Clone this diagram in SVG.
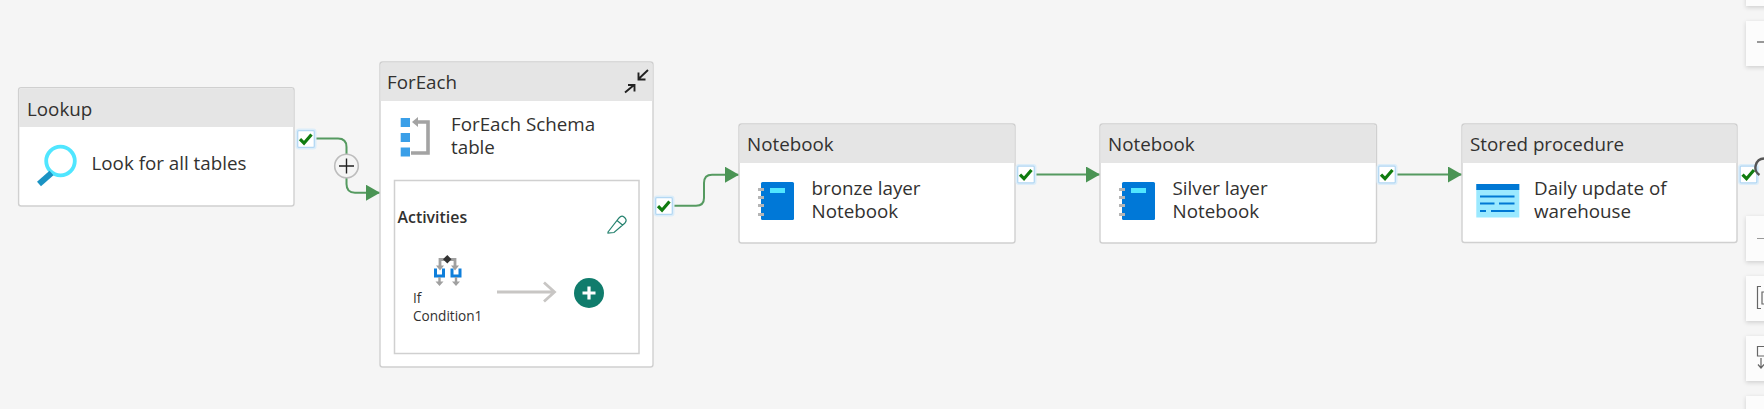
<svg xmlns="http://www.w3.org/2000/svg" width="1764" height="409" viewBox="0 0 1764 409">
<style>
text{font-family:"Open Sans","Noto Sans","Liberation Sans",sans-serif;fill:#323130}
.t{font-size:18.8px}
.card{fill:#fff;stroke:#d0d0d0;stroke-width:1.4}
.hd{fill:#e5e5e5}
.conn{fill:none;stroke:#559a60;stroke-width:2}
.glow{fill:none;stroke:#dcedf9;stroke-width:3.400}
.chk{fill:#fff;stroke:#b4d8f3;stroke-width:1.300}
.tick{fill:none;stroke:#107c10;stroke-width:3.200}
.btn{fill:#fcfcfc;filter:url(#s)}
.ring{fill:#b5b5b5}
.nb{fill:#0078d7}
</style>
<defs>
<filter id="s" x="-30%" y="-30%" width="160%" height="160%"><feDropShadow dx="0" dy="1.5" stdDeviation="2" flood-color="#000" flood-opacity="0.16"/></filter>
<marker id="a" markerUnits="userSpaceOnUse" markerWidth="14" markerHeight="16" refX="14" refY="8" orient="auto"><path d="M0 0L14 8L0 16Z" fill="#4a9454"/></marker>
<g id="check"><rect class="glow" x="0.200" y="0.200" width="17.600" height="17.600" rx="1.500"/><rect class="chk" x="0.700" y="0.700" width="16.600" height="16.600" rx="1"/><path class="tick" d="M3 9.200L7 13.200L14.500 4.500"/></g>
<g id="nbicon"><rect class="nb" x="0" y="0" width="33" height="38" rx="1.500"/><rect x="9" y="6" width="15" height="5" fill="#50e6ff"/><rect class="ring" x="-3" y="6" width="6" height="3"/><rect class="ring" x="-3" y="14" width="6" height="3"/><rect class="ring" x="-3" y="22" width="6" height="3"/><rect class="ring" x="-3" y="31" width="6" height="3"/></g>
</defs>
<rect width="1764" height="409" fill="#f5f5f5"/>
<g id="connectors">
<path class="conn" marker-end="url(#a)" d="M314 138.500H338Q346.500 138.500 346.500 147V184Q346.500 192.700 355 192.700H380"/>
<path class="conn" marker-end="url(#a)" d="M672 205.700H696Q704 205.700 704 198V183Q704 174.700 712 174.700H739"/>
<path class="conn" marker-end="url(#a)" d="M1034 174.500H1100"/>
<path class="conn" marker-end="url(#a)" d="M1395 174.500H1462"/>
</g>
<g id="add-lookup"><circle cx="346.500" cy="166" r="11.800" fill="#f5f5f5" stroke="#bdbdbd" stroke-width="1.600"/><path d="M339 166H354M346.500 158.500V173.500" stroke="#222" stroke-width="1.400"/></g>
<g id="lookup">
<rect class="card" x="18.600" y="87.600" width="275.400" height="118.400" rx="2.500"/>
<path class="hd" d="M19.200 90.500Q19.200 88.200 21.500 88.200H291.200Q293.400 88.200 293.400 90.500V127H19.200Z"/>
<text class="t" x="27" y="115.700">Lookup</text>
<circle cx="60.500" cy="161" r="14.300" fill="none" stroke="#50e6ff" stroke-width="3.800"/>
<path d="M39 184L51.500 173" stroke="#1b93c3" stroke-width="6"/>
<text class="t" x="91.500" y="170">Look for all tables</text>
<use href="#check" x="297" y="130"/>
</g>
<g id="foreach">
<rect class="card" x="380" y="62" width="273" height="305" rx="2.500"/>
<path class="hd" d="M380.600 65Q380.600 62.600 383 62.600H650Q652.400 62.600 652.400 65V101H380.600Z"/>
<text class="t" x="387" y="89">ForEach</text>
<path d="M625 92.500L634 85M628 85H634.500V91.500M648 70L638.500 79M638.500 72.500V79.500H645.500" fill="none" stroke="#222" stroke-width="1.900"/>
<rect x="400.700" y="118" width="9.300" height="9" fill="#3a9fe8"/><rect x="400.700" y="133" width="9.300" height="9" fill="#3a9fe8"/><rect x="400.700" y="147.500" width="9.300" height="9" fill="#3a9fe8"/>
<path d="M411 153H428V122H417" fill="none" stroke="#a3a3a3" stroke-width="3.600"/><path d="M412 122L418 117V127Z" fill="#a3a3a3"/>
<text class="t" x="451" y="131">ForEach Schema</text>
<text class="t" x="451" y="154">table</text>
<rect x="394.500" y="180.500" width="244.500" height="173" fill="#fff" stroke="#d0d0d0" stroke-width="1.500"/>
<text x="397.500" y="222.700" font-size="15.900" font-weight="600">Activities</text>
<path d="M608 232L619 218Q621.500 215 624 217L625.500 218.500Q627 220.500 625 223L614 232.500L608 233Z M617 220.500L622.500 225" fill="#fff" stroke="#26826f" stroke-width="1.200"/>
<g id="if-icon">
<path d="M440 266V259.500H455V266" fill="none" stroke="#a0a0a0" stroke-width="2.800"/>
<path d="M436 265.500H444L440 270.500ZM451 265.500H459L455 270.500Z" fill="#a0a0a0"/>
<path d="M447.300 255L451.500 259.300L447.300 263.500L443 259.300Z" fill="#333"/>
<path d="M435.500 268.500V276H443.500V268.500M452 268.500V276H460V268.500" fill="none" stroke="#0f7fdb" stroke-width="3"/>
<path d="M439.500 277V282M456 277V282" stroke="#a0a0a0" stroke-width="2.400"/>
<path d="M435.500 281.500H443.500L439.500 286ZM452 281.500H460L456 286Z" fill="#a0a0a0"/>
</g>
<text x="413" y="303" font-size="13.600">If</text>
<text x="413" y="321" font-size="13.600">Condition1</text>
<path d="M497 292H554M544 282.500L554.500 292L544 301.500" fill="none" stroke="#c8c6c4" stroke-width="2.800"/>
<circle cx="589" cy="293" r="15" fill="#107c6c"/><path d="M582.500 293H595.500M589 286.500V299.500" stroke="#fff" stroke-width="3.200"/>
<use href="#check" x="655" y="197"/>
</g>
<g id="notebook-bronze">
<rect class="card" x="739" y="124" width="276" height="119" rx="2.500"/>
<path class="hd" d="M739.600 127Q739.600 124.600 742 124.600H1012Q1014.400 124.600 1014.400 127V163H739.600Z"/>
<text class="t" x="747" y="150.700">Notebook</text>
<use href="#nbicon" x="761" y="182"/>
<text class="t" x="811.500" y="195">bronze layer</text>
<text class="t" x="811.500" y="218">Notebook</text>
<use href="#check" x="1017" y="165.500"/>
</g>
<g id="notebook-silver">
<rect class="card" x="1100" y="124" width="276.500" height="119" rx="2.500"/>
<path class="hd" d="M1100.600 127Q1100.600 124.600 1103 124.600H1373.500Q1375.900 124.600 1375.900 127V163H1100.600Z"/>
<text class="t" x="1108" y="150.700">Notebook</text>
<use href="#nbicon" x="1122" y="182"/>
<text class="t" x="1172.500" y="195">Silver layer</text>
<text class="t" x="1172.500" y="218">Notebook</text>
<use href="#check" x="1378" y="165.500"/>
</g>
<g id="stored-procedure">
<rect class="card" x="1462" y="124" width="275" height="118.500" rx="2.500"/>
<path class="hd" d="M1462.600 127Q1462.600 124.600 1465 124.600H1734Q1736.400 124.600 1736.400 127V163H1462.600Z"/>
<text class="t" x="1470" y="150.700">Stored procedure</text>
<rect x="1476.300" y="184" width="43" height="33.500" fill="#9be9ff"/><rect x="1476.300" y="184" width="43" height="6" fill="#0078d4"/>
<path d="M1480 196.500H1514.500M1480 203.500H1494.500M1499 203.500H1514.500M1480 211H1486M1491 211H1514.500" stroke="#0078d4" stroke-width="2.200"/>
<text class="t" x="1534" y="195">Daily update of</text>
<text class="t" x="1534" y="218">warehouse</text>
<use href="#check" x="1739.500" y="165.500"/>
</g>
<g id="toolbar">
<rect class="btn" x="1746" y="-20" width="30" height="26"/>
<rect class="btn" x="1746" y="21" width="30" height="45"/>
<rect class="btn" x="1746" y="216" width="30" height="45"/>
<rect class="btn" x="1746" y="276" width="30" height="45"/>
<rect class="btn" x="1746" y="336" width="30" height="45"/>
<rect class="btn" x="1746" y="396" width="30" height="30"/>
<path d="M1757 42H1764" stroke="#777" stroke-width="1.500"/>
<path d="M1757 238.500H1764" stroke="#999" stroke-width="1"/>
<path d="M1761 286.500H1757.500V308.500H1761M1764 292H1762V304H1764" fill="none" stroke="#666" stroke-width="1.200"/>
<path d="M1764 346.500H1757.500V356H1764M1761 358V368M1758 364.500L1761 368L1764 364.500" fill="none" stroke="#666" stroke-width="1.200"/>
<path d="M1764 158.500A9 9 0 0 0 1759.500 175" fill="none" stroke="#555" stroke-width="2.400"/>
</g>
</svg>
